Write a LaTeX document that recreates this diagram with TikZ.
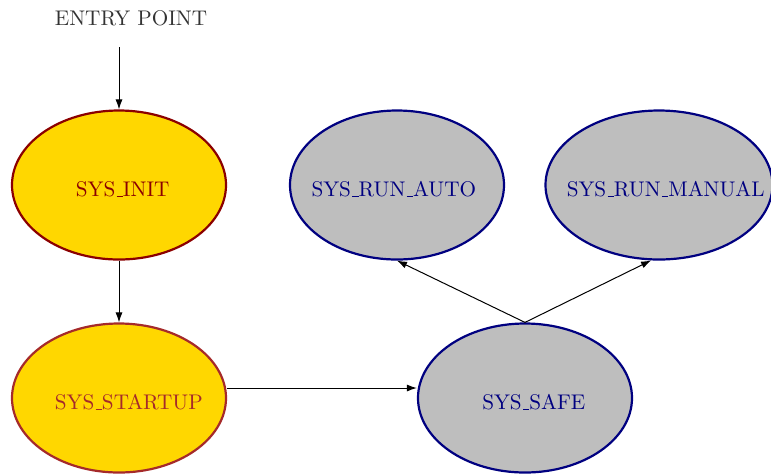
\documentclass[tikz,border=0pt]{standalone}
\usetikzlibrary{arrows.meta,shapes.geometric}
\definecolor{stategold}{HTML}{FFD700}
\definecolor{stategray}{HTML}{BEBEBE}
\definecolor{initred}{HTML}{8B0000}
\definecolor{startbrown}{HTML}{A52A2A}
\definecolor{runnavy}{HTML}{000080}
% short underscore, as in classic LaTeX \_
\newcommand\usc{\kern.06em\vbox{\hrule width.3em}}
% state label of zero width (so the ellipse keeps its fixed size),
% optionally moved sideways by the first argument
\newcommand\statelabel[2][0pt]{\makebox[0pt][c]{\kern#1#2\kern-#1}}
\begin{document}
\begin{tikzpicture}[x=0.5pt,y=-0.5pt,
  every node/.style={font=\fontsize{10.6}{12}\selectfont},
  state/.style={ellipse,line width=1.1pt,minimum width=107pt,minimum height=74.5pt,
    inner sep=0pt,text height=11.5pt,text depth=0pt},
  bootstate/.style={state,fill=stategold},
  runstate/.style={state,fill=stategray,draw=runnavy,text=runnavy},
  flow/.style={-{Latex[length=5pt,width=3.5pt]},line width=0.5pt,black}]
\useasboundingbox (0,0) rectangle (771,473);

\node[text=black!80] (entry) at (131,18) {ENTRY POINT};
\coordinate (entrystart) at (119,47);

\node[bootstate,draw=initred,text=initred] (init) at (119,185)
  {\statelabel[1.85pt]{SYS\usc INIT}};
\node[bootstate,draw=startbrown,text=startbrown] (startup) at (119,398)
  {\statelabel[4.9pt]{SYS\usc STARTUP}};
\node[runstate] (safe) at (525,398) {\statelabel[4.4pt]{SYS\usc SAFE}};
\node[runstate] (auto) at (397,185) {\statelabel[-1.6pt]{SYS\usc RUN\usc AUTO}};
\node[runstate,minimum width=113.5pt] (manual) at (659,185)
  {\statelabel[3.35pt]{SYS\usc RUN\usc MANUAL}};

% horizontal connector a little above the centre line
\coordinate (hline) at ([yshift=5pt]startup.center);

\draw[flow] (entrystart) -- (init.north);
\draw[flow] (init.south) -- (startup.north);
\draw[flow] (hline -| startup.east) -- (hline -| safe.west);
\draw[flow] (safe.north) -- (auto.south);
\draw[flow] (safe.north) -- (manual.264);
\end{tikzpicture}
\end{document}
